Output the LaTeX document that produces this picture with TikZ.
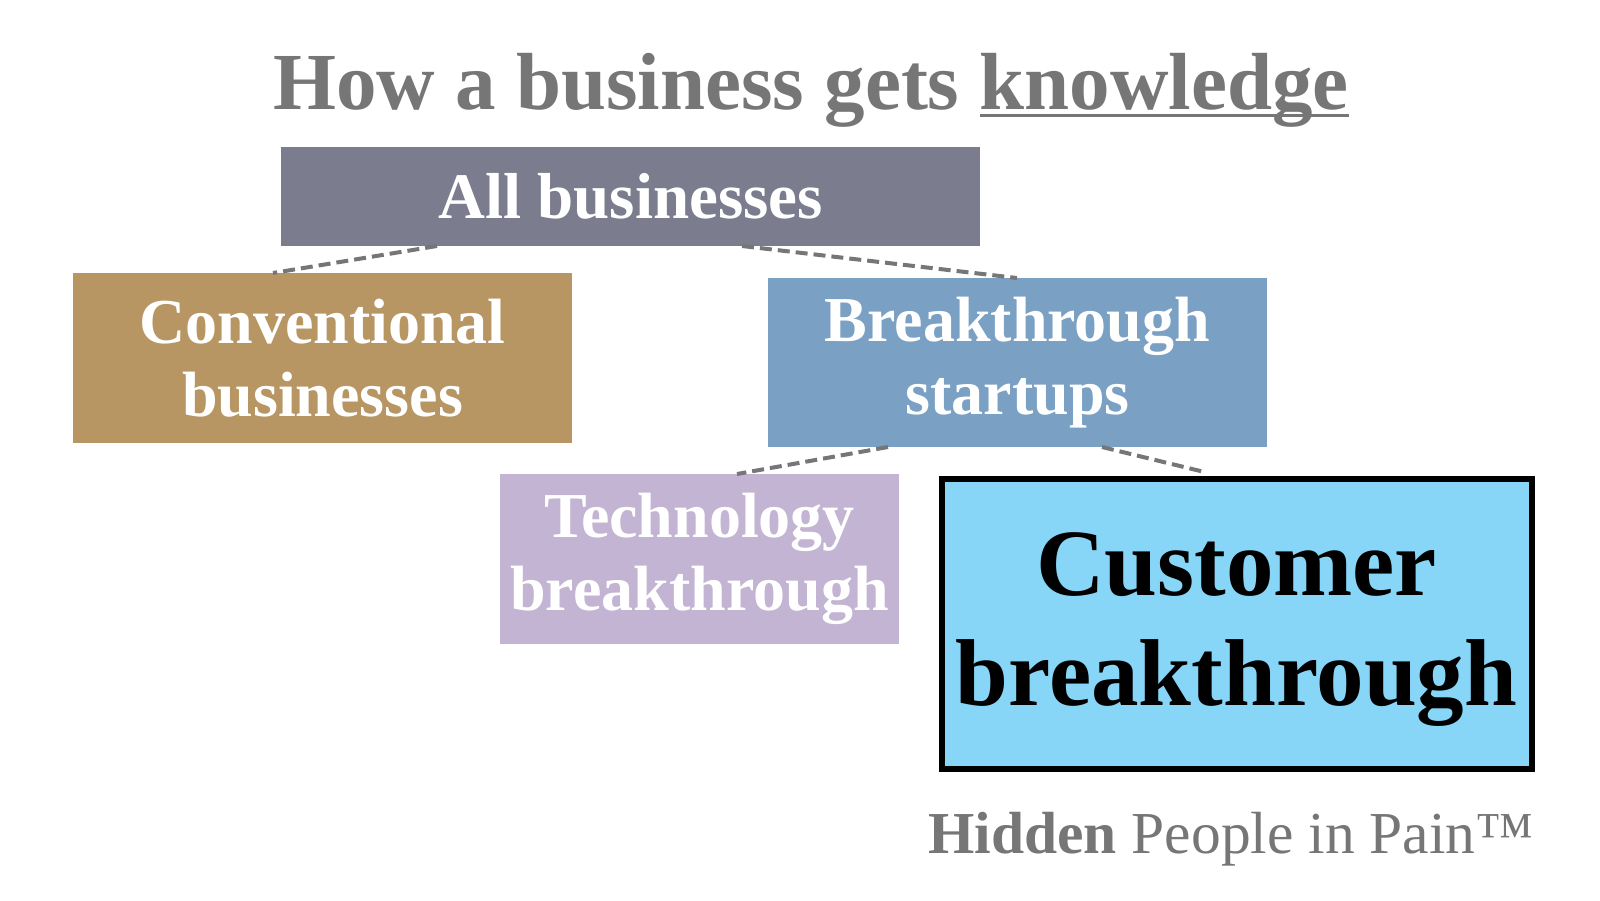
\documentclass[tikz,border=0pt]{standalone}
\usepackage{fontspec}
\setmainfont{Liberation Serif}
\definecolor{txtgray}{HTML}{767676}
\definecolor{allc}{HTML}{7B7D8E}
\definecolor{convc}{HTML}{B89664}
\definecolor{bsc}{HTML}{7AA0C4}
\definecolor{techc}{HTML}{C2B4D2}
\definecolor{custc}{HTML}{87D5F7}
\newcommand\myuline[1]{\setbox0\hbox{#1}\rlap{\rule[-8pt]{\wd0}{3.5pt}}\box0}
\tikzset{
  box/.style={rectangle, inner sep=0pt, outer sep=0pt, align=center, text=white, font=\bfseries},
  midfont/.style={font=\fontsize{64}{73}\selectfont\bfseries},
  link/.style={draw=txtgray, line width=4pt, dash pattern=on 12pt off 6pt},
}
\begin{document}
\begin{tikzpicture}[x=1pt,y=-1pt]
\useasboundingbox (0,0) rectangle (1600,900);
\node[anchor=base, text=txtgray, font=\fontsize{81}{90}\selectfont\bfseries] (title) at (811,109) {How a business gets \myuline{knowledge}};
\node[box, fill=allc, minimum width=699pt, minimum height=99pt, font=\fontsize{65}{73}\selectfont\bfseries] (all) at (630.5,196.5) {All businesses};
\node[box, midfont, fill=convc, minimum width=499pt, minimum height=170pt] (conv) at (322.5,358) {Conventional\\businesses};
\node[box, midfont, fill=bsc, minimum width=499pt, minimum height=169pt] (bs) at (1017.5,362.5) {Breakthrough\\startups};
\node[box, midfont, fill=techc, minimum width=399pt, minimum height=170pt] (tech) at (699.5,559) {Technology\\breakthrough};
\node[box, fill=custc, draw=black, line width=6pt, text=black, minimum width=590pt, minimum height=290pt, font=\fontsize{95}{110}\selectfont\bfseries, text depth=9pt] (cust) at (1236.5,623.5) {Customer\\breakthrough};
\node[anchor=base east, text=txtgray, font=\fontsize{59.5}{66}\selectfont, inner sep=0pt] (foot) at (1534,853) {\textbf{Hidden} People in Pain™};
\draw[link] ([xshift=156pt]all.south west) -- ([xshift=200pt]conv.north west);
\draw[link] ([xshift=461pt]all.south west) -- ([xshift=249pt]bs.north west);
\draw[link] ([xshift=120pt]bs.south west) -- ([xshift=237pt]tech.north west);
\draw[link] ([xshift=334pt]bs.south west) -- ([xshift=265pt,yshift=6pt]cust.north west);
\end{tikzpicture}
\end{document}
